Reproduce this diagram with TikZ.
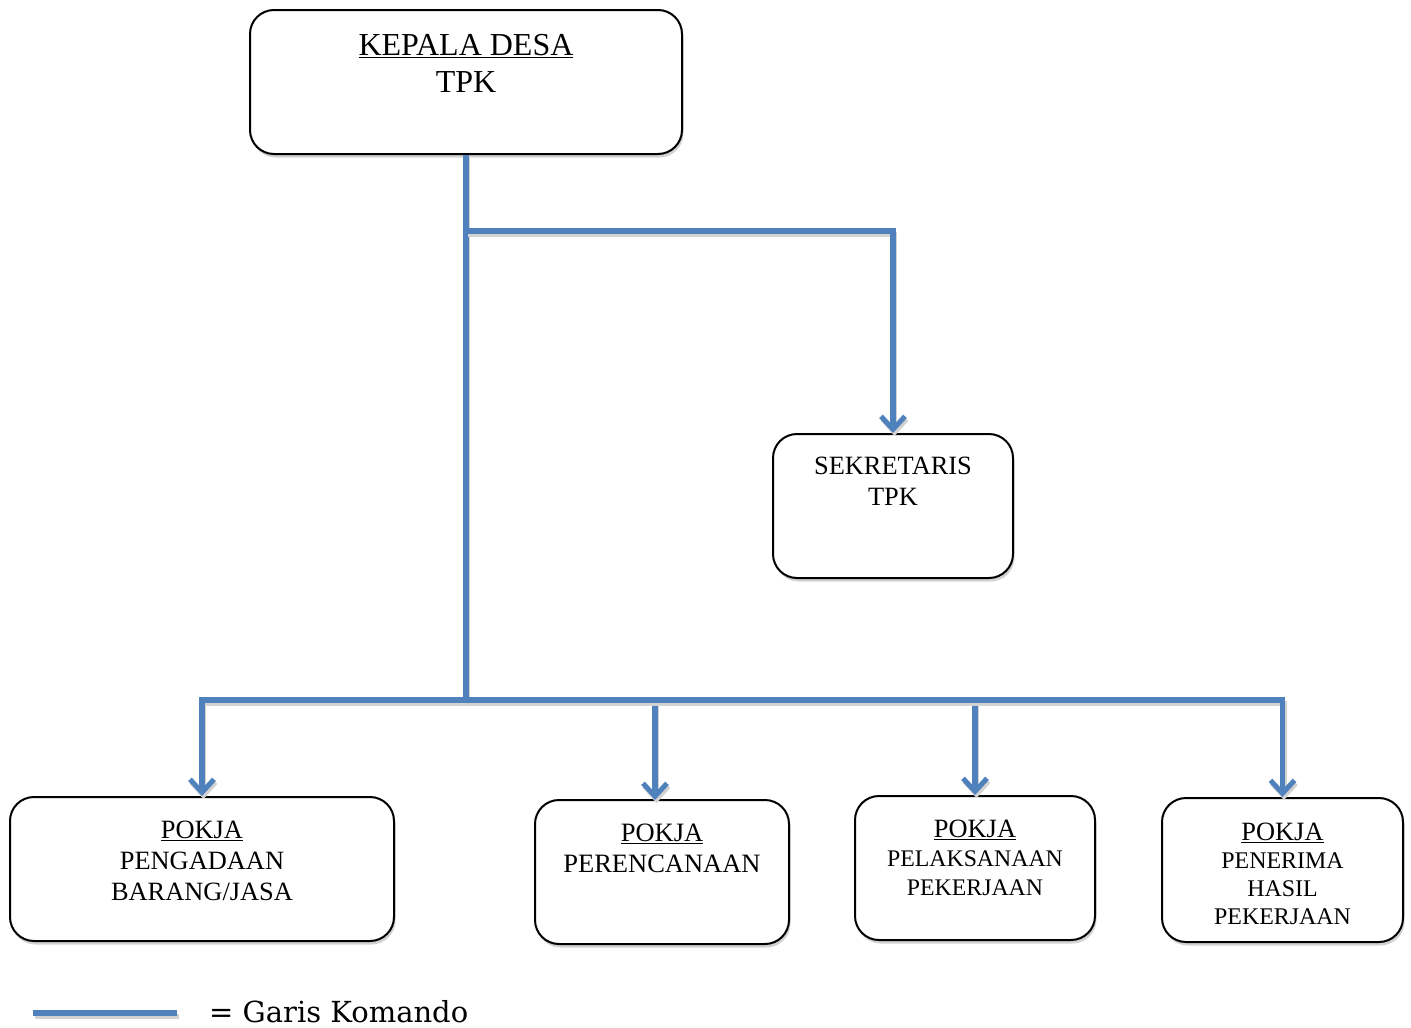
\documentclass[tikz,border=0pt]{standalone}
\usepackage{fontspec}
\setmainfont{Liberation Serif}
\newfontfamily\legendfont{DejaVu Serif}
\usetikzlibrary{arrows.meta,shadows,calc}
\definecolor{cmdblue}{RGB}{79,129,189}
\tikzset{
  box/.style={draw=black, line width=2pt, rounded corners=24pt, fill=white,
    drop shadow={fill=gray!35, opacity=1, shadow xshift=1.5pt, shadow yshift=-3.5pt},
    inner sep=0pt},
  boxtext/.style={anchor=north, align=center, inner sep=0pt},
  cmd/.style={line width=5.5pt, draw=cmdblue, line join=miter,
    preaction={draw=gray!35, line width=5pt, transform canvas={shift={(1.5pt,-3pt)}}}},
  tip/.style={-{Straight Barb[length=13pt,width=24pt,line width=5pt]}}
}
\begin{document}
\begin{tikzpicture}[x=1pt,y=-1pt]
\useasboundingbox (0,0) rectangle (1411,1028);
% boxes
\node[box, minimum width=432pt, minimum height=144pt] (kd) at (466,82) {};
\node[box, minimum width=240pt, minimum height=144pt] (sk) at (893,506) {};
\node[box, minimum width=384pt, minimum height=144pt] (p1) at (202,869) {};
\node[box, minimum width=254pt, minimum height=144pt] (p2) at (662,872) {};
\node[box, minimum width=240pt, minimum height=144pt] (p3) at (975,868) {};
\node[box, minimum width=241pt, minimum height=144pt] (p4) at (1282.5,870) {};
% texts
\node[boxtext, font=\fontsize{32}{37}\selectfont] (kdt) at (466,34) {\underline{KEPALA DESA}\\TPK};
\node[boxtext, font=\fontsize{26.4}{30.5}\selectfont] (skt) at (893,457) {SEKRETARIS\\TPK};
\node[boxtext, font=\fontsize{26.4}{31}\selectfont] (p1t) at (202,821) {\underline{POKJA}\\PENGADAAN\\BARANG/JASA};
\node[boxtext, font=\fontsize{26.5}{31}\selectfont] (p2t) at (662,824) {\underline{POKJA}\\PERENCANAAN};
\node[boxtext, font=\fontsize{23.8}{28.7}\selectfont] (p3t) at (975,820) {{\fontsize{26.4}{28.7}\selectfont\underline{POKJA}}\\PELAKSANAAN\\PEKERJAAN};
\node[boxtext, font=\fontsize{23.9}{27.8}\selectfont] (p4t) at (1282.5,823) {{\fontsize{26.4}{27.8}\selectfont\underline{POKJA}}\\PENERIMA\\HASIL\\PEKERJAAN};
% junctions
\coordinate (j1) at (466,231);
\coordinate (j2) at (466,700);
\coordinate (p2in) at (655,800);
% connectors
\draw[cmd] (kd.south) -- (j2);
\draw[cmd, tip] (j1) -| (sk.north);
\draw[cmd, tip] (j2) -| (p1.north);
\draw[cmd, tip] (j2) -| (p2in);
\draw[cmd, tip] (j2) -| (p3.north);
\draw[cmd, tip] (j2) -| (p4.north);
% legend
\coordinate (la) at (33,1013);
\coordinate (lb) at (177,1013);
\draw[cmd] (la) -- (lb);
\node[anchor=base west, inner sep=0pt, font=\legendfont\fontsize{29}{32}\selectfont] (lt) at (209,1022) {= Garis Komando};
\end{tikzpicture}
\end{document}
